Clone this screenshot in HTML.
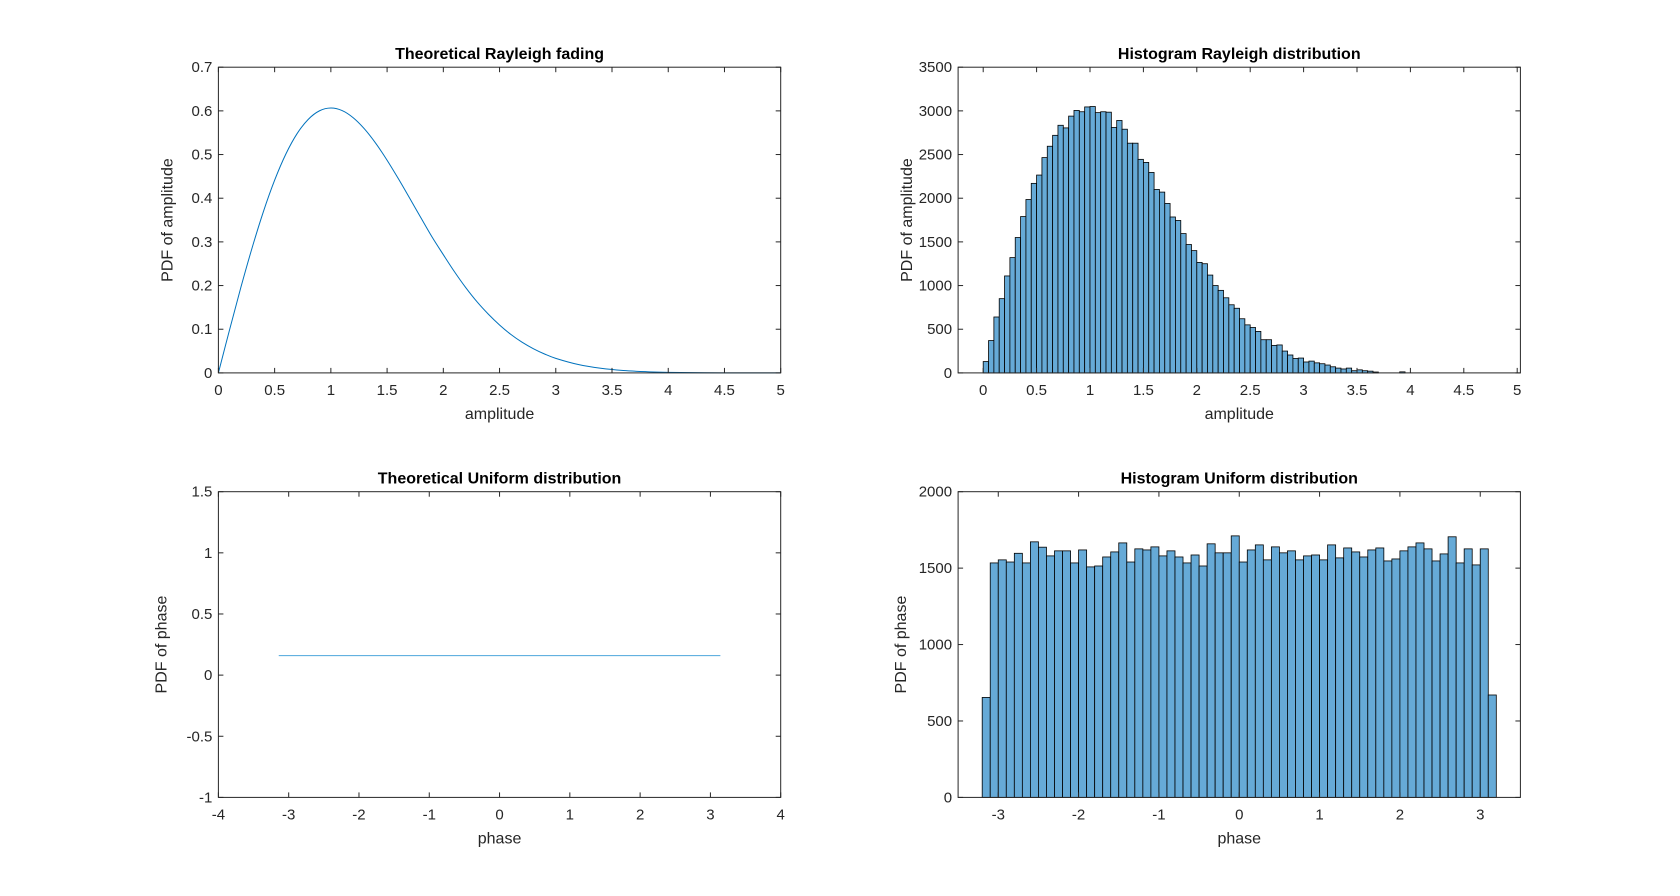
<!DOCTYPE html>
<html><head><meta charset="utf-8"><style>
html,body{margin:0;padding:0;background:#fff;}
svg{display:block;font-family:"Liberation Sans",Arial,sans-serif;}
</style></head><body>
<svg id="fig" width="1680" height="896" xmlns="http://www.w3.org/2000/svg"></svg>
<script>
// ---- data ----
const rayX = [0,0.1,0.2,0.3,0.4,0.5,0.6,0.7,0.8,0.9,1.0,1.1,1.2,1.3,1.4,1.5,1.6,1.7,1.8,1.9,2.0,2.1,2.2,2.3,2.4,2.5,2.6,2.7,2.8,2.9,3.0,3.2,3.4,3.6,3.8,4.0,4.5,5.0];
const rayY = [0,0.0995,0.1960,0.2866,0.3692,0.4412,0.5012,0.5480,0.5809,0.6003,0.6065,0.6007,0.5840,0.5583,0.5254,0.4870,0.4448,0.4005,0.3555,0.3111,0.2707,0.2313,0.1951,0.1627,0.1346,0.1098,0.0882,0.0703,0.0555,0.0433,0.0333,0.0192,0.0106,0.0055,0.0028,0.0013,0.0002,0.0000];
const rayBinWidth = 0.05;
const rayCounts = [130,370,640,850,1110,1320,1550,1790,1985,2170,2265,2465,2595,2720,2835,2805,2940,3005,2990,3045,3050,2980,2990,2985,2810,2890,2790,2630,2630,2445,2410,2295,2100,2070,1940,1785,1745,1595,1470,1400,1265,1250,1120,1000,945,860,780,740,620,550,520,475,380,380,315,320,250,205,165,170,125,135,115,105,90,70,55,45,55,25,35,25,20,10,0,0,0,0,12];
const uniX = [-3.14159,3.14159];
const uniY = [0.159,0.159];
const uniBinStart = -3.2;
const uniBinWidth = 0.1;
const uniCounts = [654,1534,1554,1540,1597,1534,1672,1637,1580,1613,1613,1534,1619,1508,1514,1573,1606,1665,1540,1626,1619,1639,1580,1613,1573,1534,1586,1514,1659,1600,1600,1711,1540,1619,1652,1554,1639,1600,1613,1554,1580,1586,1554,1652,1567,1632,1606,1573,1619,1632,1547,1560,1613,1639,1665,1626,1547,1593,1705,1534,1626,1521,1626,670];
const ticksTL_x=[0,0.5,1,1.5,2,2.5,3,3.5,4,4.5,5], ticksTL_y=[0,0.1,0.2,0.3,0.4,0.5,0.6,0.7];
const ticksTR_x=[0,0.5,1,1.5,2,2.5,3,3.5,4,4.5,5], ticksTR_y=[0,500,1000,1500,2000,2500,3000,3500];
const ticksBL_x=[-4,-3,-2,-1,0,1,2,3,4], ticksBL_y=[-1,-0.5,0,0.5,1,1.5];
const ticksBR_x=[-3,-2,-1,0,1,2,3], ticksBR_y=[0,500,1000,1500,2000];

const NS="http://www.w3.org/2000/svg";
const fig=document.getElementById('fig');
function mk(tag,attrs,parent,text){const e=document.createElementNS(NS,tag);for(const k in attrs)e.setAttribute(k,attrs[k]);if(text!==undefined)e.textContent=text;(parent||fig).appendChild(e);return e;}

function makeAxes(id,L,T,W,H,xlim,ylim,xt,yt,title,xlabel,ylabel){
  const g=mk('g',{});
  
  
  const sx=v=>L+(v-xlim[0])/(xlim[1]-xlim[0])*W;
  const sy=v=>T+H-(v-ylim[0])/(ylim[1]-ylim[0])*H;
  mk('rect',{x:L,y:T,width:W,height:H,fill:'#fff'},g);
  const marks=mk('g',{},g);
  
  
  const frame=mk('g',{},g);
  mk('rect',{x:L,y:T,width:W,height:H,fill:'none',stroke:'#262626','stroke-width':1},frame);
  xt.forEach(v=>{const x=sx(v);
    mk('line',{x1:x,y1:T+H,x2:x,y2:T+H-5,stroke:'#262626'},frame);
    mk('line',{x1:x,y1:T,x2:x,y2:T+5,stroke:'#262626'},frame);
    const t=mk('text',{x:x,y:T+H+22,'font-size':15,fill:'#262626','text-anchor':'middle'},frame,String(v));
    
    
  });
  yt.forEach(v=>{const y=sy(v);
    mk('line',{x1:L,y1:y,x2:L+5,y2:y,stroke:'#262626'},frame);
    mk('line',{x1:L+W,y1:y,x2:L+W-5,y2:y,stroke:'#262626'},frame);
    const t=mk('text',{x:L-6,y:y+5,'font-size':15,fill:'#262626','text-anchor':'end'},frame,String(v));
    
    
  });
  const tt=mk('text',{x:L+W/2,y:T-8,'font-size':16,'font-weight':'bold',fill:'#000','text-anchor':'middle'},g,title);
  
  
  const xl=mk('text',{x:L+W/2,y:T+H+46,'font-size':16,fill:'#262626','text-anchor':'middle'},g,xlabel);
  
  
  const yx=L-(ylabel.length>13?46:52), yy=T+H/2;
  const yl=mk('text',{x:yx,y:yy,'font-size':16,fill:'#262626','text-anchor':'middle',transform:`rotate(-90 ${yx} ${yy})`},g,ylabel);
  
  
  return {sx,sy,marks};
}

const L1=218.4,L2=958.1,W=562.3,H=305.7,T1=67.2,T2=491.7;

// Top-left: theoretical Rayleigh
const a1=makeAxes('rayleigh-theory',L1,T1,W,H,[0,5],[0,0.7],ticksTL_x,ticksTL_y,'Theoretical Rayleigh fading','amplitude','PDF of amplitude');
{
  const P=rayX.map((x,i)=>[a1.sx(x),a1.sy(rayY[i])]);
  let d=`M${P[0][0]},${P[0][1]}`;
  for(let i=0;i<P.length-1;i++){
    const p0=P[Math.max(0,i-1)],p1=P[i],p2=P[i+1],p3=P[Math.min(P.length-1,i+2)];
    const c1=[p1[0]+(p2[0]-p0[0])/6,p1[1]+(p2[1]-p0[1])/6];
    const c2=[p2[0]-(p3[0]-p1[0])/6,p2[1]-(p3[1]-p1[1])/6];
    d+=` C${c1[0]},${c1[1]} ${c2[0]},${c2[1]} ${p2[0]},${p2[1]}`;
  }
  const p=mk('path',{d:d,fill:'none',stroke:'#0072bd','stroke-width':1},a1.marks);
  
  
}

// Top-right: histogram Rayleigh
const a2=makeAxes('rayleigh-hist',L2,T1,W,H,[-0.235,5.03],[0,3500],ticksTR_x,ticksTR_y,'Histogram Rayleigh distribution','amplitude','PDF of amplitude');
rayCounts.forEach((c,i)=>{
  if(c<=0)return;
  const x0=a2.sx(i*rayBinWidth),x1=a2.sx((i+1)*rayBinWidth);
  const r=mk('rect',{x:x0,y:a2.sy(c),width:x1-x0,height:a2.sy(0)-a2.sy(c),fill:'rgb(102,170,215)',stroke:'#000','stroke-width':0.8},a2.marks);
  
  
});

// Bottom-left: theoretical uniform
const a3=makeAxes('uniform-theory',L1,T2,W,H,[-4,4],[-1,1.5],ticksBL_x,ticksBL_y,'Theoretical Uniform distribution','phase','PDF of phase');
{
  const pts=uniX.map((x,i)=>`${a3.sx(x)},${a3.sy(uniY[i])}`).join(' ');
  const p=mk('polyline',{points:pts,fill:'none',stroke:'#4da6dc','stroke-width':1},a3.marks);
  
  
}

// Bottom-right: histogram uniform
const a4=makeAxes('uniform-hist',L2,T2,W,H,[-3.5,3.5],[0,2000],ticksBR_x,ticksBR_y,'Histogram Uniform distribution','phase','PDF of phase');
uniCounts.forEach((c,i)=>{
  const x0=a4.sx(uniBinStart+i*uniBinWidth),x1=a4.sx(uniBinStart+(i+1)*uniBinWidth);
  const r=mk('rect',{x:x0,y:a4.sy(c),width:x1-x0,height:a4.sy(0)-a4.sy(c),fill:'rgb(102,170,215)',stroke:'#000','stroke-width':0.8},a4.marks);
  
  
});
</script>
</body></html>
